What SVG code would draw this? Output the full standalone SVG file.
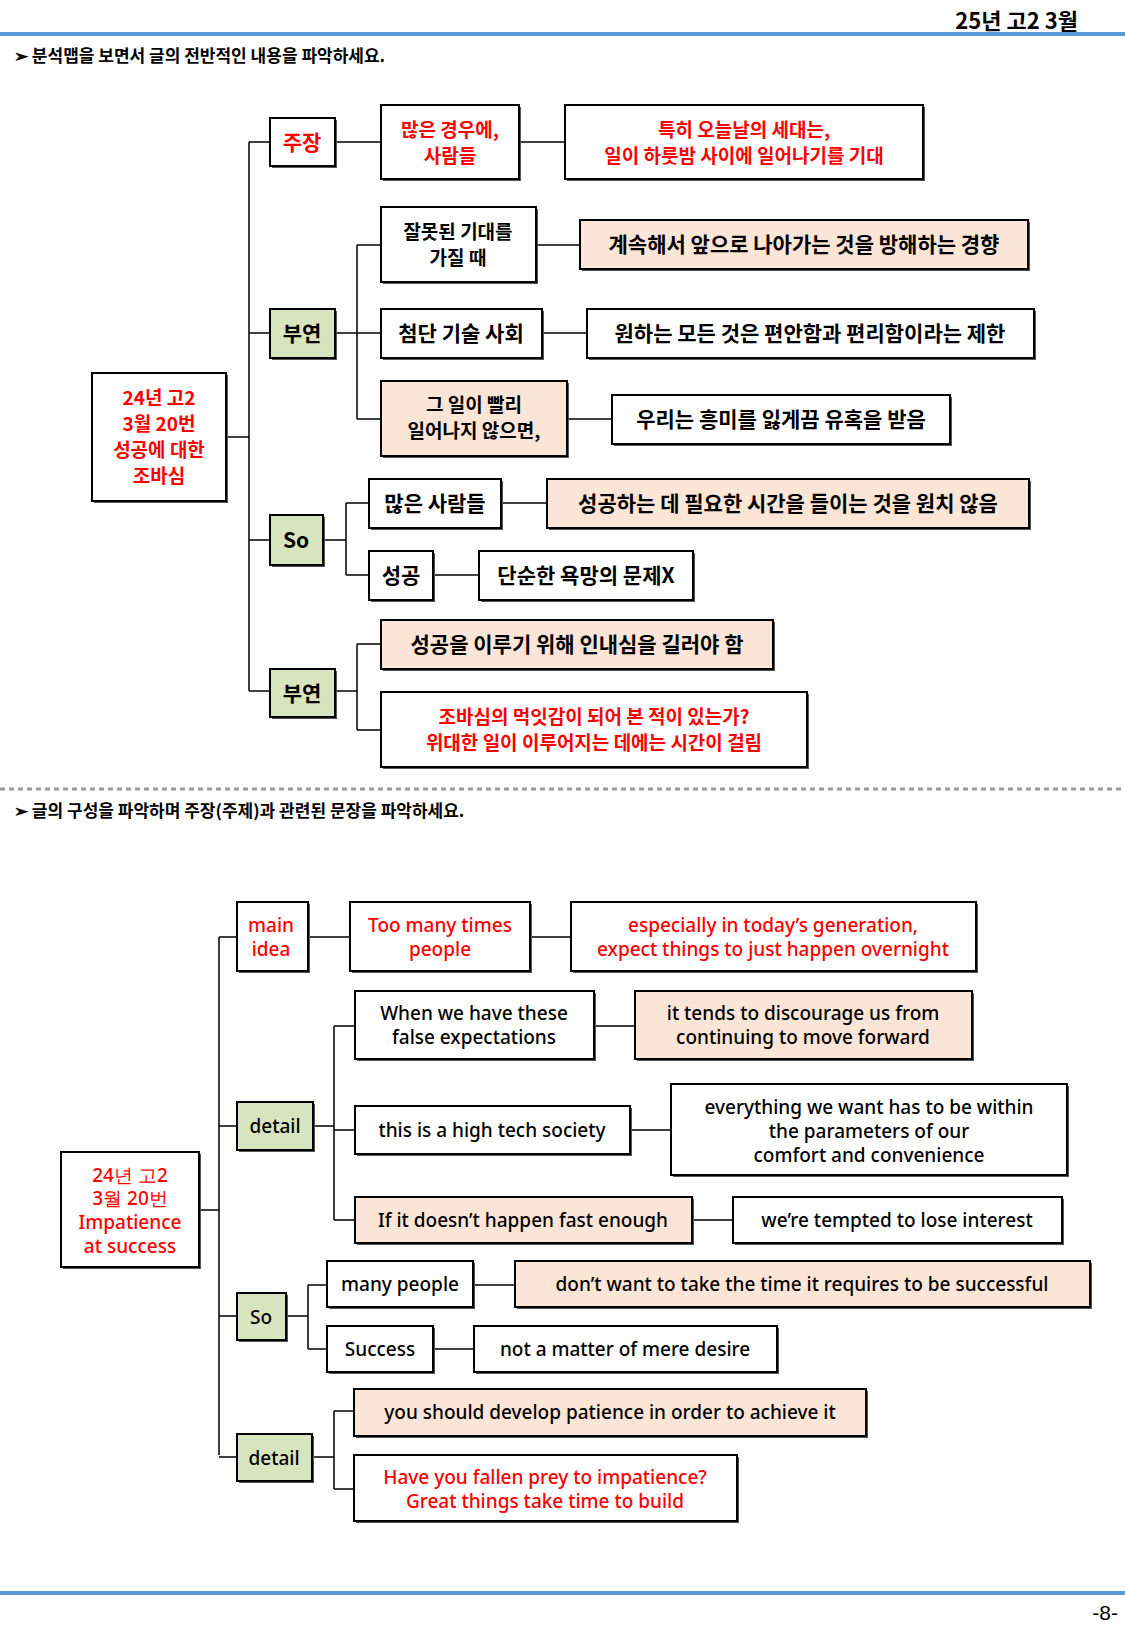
<svg xmlns="http://www.w3.org/2000/svg" width="1125" height="1625" viewBox="0 0 1125 1625">
<style>
.b{fill:#fff;stroke:#000;stroke-width:2}
.g{fill:#d7e4bd;stroke:#000;stroke-width:2}
.p{fill:#fbe5d6;stroke:#000;stroke-width:2}
.sh{fill:#555}
.k{font-family:"Noto Sans CJK KR","Noto Sans",sans-serif;font-weight:700;font-size:21px;text-anchor:middle}
.k2{font-family:"Noto Sans CJK KR","Noto Sans",sans-serif;font-weight:700;font-size:19px;text-anchor:middle}
.e{font-family:"Noto Sans","Liberation Sans",sans-serif;font-weight:500;font-size:19px;text-anchor:middle}
.r{fill:#ff0000}.d{fill:#000}
.c{fill:none;stroke:#000;stroke-width:1.5}
</style>
<rect width="1125" height="1625" fill="#fff"/>
<text x="1078" y="29" font-family="Noto Sans CJK KR,sans-serif" font-weight="700" font-size="22" text-anchor="end">25년 고2 3월</text>
<rect x="0" y="32" width="1125" height="4" fill="#5b9bd5"/>
<text x="14" y="62" font-family="Noto Sans CJK KR,sans-serif" font-weight="700" font-size="17">➢ 분석맵을 보면서 글의 전반적인 내용을 파악하세요.</text>
<line x1="0" y1="789" x2="1125" y2="789" stroke="#999" stroke-width="3" stroke-dasharray="5,4"/>
<text x="14" y="817" font-family="Noto Sans CJK KR,sans-serif" font-weight="700" font-size="17">➢ 글의 구성을 파악하며 주장(주제)과 관련된 문장을 파악하세요.</text>
<rect x="0" y="1591" width="1125" height="4" fill="#5b9bd5"/>
<text x="1118" y="1620" font-family="Liberation Sans,sans-serif" font-size="21" text-anchor="end">-8-</text>

<g id="connectors">
<path class="c" d="M226 437H249M249 142V691M249 142H270M335 142H381M519 142H565M249 333H270M335 333H357M357 245V419M357 245H381M536 245H580M357 333H381M542 333H587M357 419H381M567 419H612M249 540H270M323 540H346M346 503V575M346 503H369M501 503H547M346 575H369M433 575H479M249 691H270M335 691H357M357 644V730M357 644H381M357 730H381"/>
<path class="c" d="M199 1210H219M219 937V1455M219 937H237M308 937H350M530 937H571M219 1126H237M313 1126H334M334 1026V1220M334 1026H355M594 1026H635M334 1130H355M630 1130H671M334 1220H355M692 1220H733M219 1316H237M286 1316H308M308 1285V1349M308 1285H327M473 1285H515M308 1349H327M433 1349H474M219 1457H237M312 1457H334M334 1411V1489M334 1411H354M334 1489H354"/>
</g>

<g id="n_root1"><rect class="sh" x="94" y="375" width="134" height="128"/><rect class="b" x="92" y="373" width="134" height="128"/><text class="k2 r" x="159" y="405">24년 고2</text><text class="k2 r" x="159" y="431">3월 20번</text><text class="k2 r" x="159" y="457">성공에 대한</text><text class="k2 r" x="159" y="483">조바심</text></g>
<g id="n_jujang"><rect class="sh" x="272" y="120" width="65" height="48"/><rect class="b" x="270" y="118" width="65" height="48"/><text class="k r" x="302" y="150">주장</text></g>
<g id="n_many"><rect class="sh" x="383" y="107" width="138" height="74"/><rect class="b" x="381" y="105" width="138" height="74"/><text class="k2 r" x="450" y="137">많은 경우에,</text><text class="k2 r" x="450" y="163">사람들</text></g>
<g id="n_esp"><rect class="sh" x="567" y="107" width="358" height="74"/><rect class="b" x="565" y="105" width="358" height="74"/><text class="k2 r" x="744" y="137">특히 오늘날의 세대는,</text><text class="k2 r" x="744" y="163">일이 하룻밤 사이에 일어나기를 기대</text></g>
<g id="n_buyeon1"><rect class="sh" x="272" y="311" width="65" height="49"/><rect class="g" x="270" y="309" width="65" height="49"/><text class="k d" x="302" y="341">부연</text></g>
<g id="n_wrong"><rect class="sh" x="383" y="209" width="155" height="75"/><rect class="b" x="381" y="207" width="155" height="75"/><text class="k2 d" x="458" y="239">잘못된 기대를</text><text class="k2 d" x="458" y="265">가질 때</text></g>
<g id="n_cont"><rect class="sh" x="582" y="222" width="448" height="49"/><rect class="p" x="580" y="220" width="448" height="49"/><text class="k d" x="804" y="252">계속해서 앞으로 나아가는 것을 방해하는 경향</text></g>
<g id="n_tech"><rect class="sh" x="383" y="311" width="161" height="49"/><rect class="b" x="381" y="309" width="161" height="49"/><text class="k d" x="461" y="341">첨단 기술 사회</text></g>
<g id="n_want"><rect class="sh" x="589" y="311" width="447" height="49"/><rect class="b" x="587" y="309" width="447" height="49"/><text class="k d" x="810" y="341">원하는 모든 것은 편안함과 편리함이라는 제한</text></g>
<g id="n_fast"><rect class="sh" x="383" y="383" width="186" height="75"/><rect class="p" x="381" y="381" width="186" height="75"/><text class="k2 d" x="474" y="412">그 일이 빨리</text><text class="k2 d" x="474" y="438">일어나지 않으면,</text></g>
<g id="n_tempt"><rect class="sh" x="614" y="397" width="338" height="49"/><rect class="b" x="612" y="395" width="338" height="49"/><text class="k d" x="781" y="427">우리는 흥미를 잃게끔 유혹을 받음</text></g>
<g id="n_so1"><rect class="sh" x="272" y="517" width="53" height="50"/><rect class="g" x="270" y="515" width="53" height="50"/><text class="k d" x="296" y="548">So</text></g>
<g id="n_people"><rect class="sh" x="371" y="481" width="132" height="49"/><rect class="b" x="369" y="479" width="132" height="49"/><text class="k d" x="435" y="511">많은 사람들</text></g>
<g id="n_time"><rect class="sh" x="549" y="481" width="482" height="49"/><rect class="p" x="547" y="479" width="482" height="49"/><text class="k d" x="788" y="511">성공하는 데 필요한 시간을 들이는 것을 원치 않음</text></g>
<g id="n_success"><rect class="sh" x="371" y="553" width="64" height="49"/><rect class="b" x="369" y="551" width="64" height="49"/><text class="k d" x="401" y="583">성공</text></g>
<g id="n_desire"><rect class="sh" x="481" y="553" width="214" height="49"/><rect class="b" x="479" y="551" width="214" height="49"/><text class="k d" x="586" y="583">단순한 욕망의 문제X</text></g>
<g id="n_buyeon2"><rect class="sh" x="272" y="671" width="65" height="48"/><rect class="g" x="270" y="669" width="65" height="48"/><text class="k d" x="302" y="701">부연</text></g>
<g id="n_patience"><rect class="sh" x="383" y="622" width="392" height="49"/><rect class="p" x="381" y="620" width="392" height="49"/><text class="k d" x="577" y="652">성공을 이루기 위해 인내심을 길러야 함</text></g>
<g id="n_prey"><rect class="sh" x="383" y="694" width="426" height="75"/><rect class="b" x="381" y="692" width="426" height="75"/><text class="k2 r" x="594" y="724">조바심의 먹잇감이 되어 본 적이 있는가?</text><text class="k2 r" x="594" y="750">위대한 일이 이루어지는 데에는 시간이 걸림</text></g>

<g id="n_root2"><rect class="sh" x="63" y="1154" width="138" height="115"/><rect class="b" x="61" y="1152" width="138" height="115"/><text class="e r" x="130" y="1182">24년 고2</text><text class="e r" x="130" y="1205">3월 20번</text><text class="e r" x="130" y="1229">Impatience</text><text class="e r" x="130" y="1253">at success</text></g>
<g id="n_main"><rect class="sh" x="239" y="904" width="71" height="69"/><rect class="b" x="237" y="902" width="71" height="69"/><text class="e r" x="271" y="932">main</text><text class="e r" x="271" y="956">idea</text></g>
<g id="n_toomany"><rect class="sh" x="352" y="904" width="180" height="69"/><rect class="b" x="350" y="902" width="180" height="69"/><text class="e r" x="440" y="932">Too many times</text><text class="e r" x="440" y="956">people</text></g>
<g id="n_espe"><rect class="sh" x="573" y="904" width="405" height="69"/><rect class="b" x="571" y="902" width="405" height="69"/><text class="e r" x="773" y="932">especially in today’s generation,</text><text class="e r" x="773" y="956">expect things to just happen overnight</text></g>
<g id="n_detail1"><rect class="sh" x="239" y="1104" width="76" height="48"/><rect class="g" x="237" y="1102" width="76" height="48"/><text class="e d" x="275" y="1133">detail</text></g>
<g id="n_when"><rect class="sh" x="357" y="993" width="239" height="68"/><rect class="b" x="355" y="991" width="239" height="68"/><text class="e d" x="474" y="1020">When we have these</text><text class="e d" x="474" y="1044">false expectations</text></g>
<g id="n_tends"><rect class="sh" x="637" y="993" width="337" height="68"/><rect class="p" x="635" y="991" width="337" height="68"/><text class="e d" x="803" y="1020">it tends to discourage us from</text><text class="e d" x="803" y="1044">continuing to move forward</text></g>
<g id="n_high"><rect class="sh" x="357" y="1108" width="275" height="48"/><rect class="b" x="355" y="1106" width="275" height="48"/><text class="e d" x="492" y="1137">this is a high tech society</text></g>
<g id="n_every"><rect class="sh" x="673" y="1086" width="396" height="91"/><rect class="b" x="671" y="1084" width="396" height="91"/><text class="e d" x="869" y="1114">everything we want has to be within</text><text class="e d" x="869" y="1138">the parameters of our</text><text class="e d" x="869" y="1162">comfort and convenience</text></g>
<g id="n_ifit"><rect class="sh" x="357" y="1199" width="337" height="46"/><rect class="p" x="355" y="1197" width="337" height="46"/><text class="e d" x="523" y="1227">If it doesn’t happen fast enough</text></g>
<g id="n_lose"><rect class="sh" x="735" y="1199" width="329" height="46"/><rect class="b" x="733" y="1197" width="329" height="46"/><text class="e d" x="897" y="1227">we’re tempted to lose interest</text></g>
<g id="n_so2"><rect class="sh" x="239" y="1295" width="49" height="47"/><rect class="g" x="237" y="1293" width="49" height="47"/><text class="e d" x="261" y="1324">So</text></g>
<g id="n_mp"><rect class="sh" x="329" y="1263" width="146" height="46"/><rect class="b" x="327" y="1261" width="146" height="46"/><text class="e d" x="400" y="1291">many people</text></g>
<g id="n_dont"><rect class="sh" x="517" y="1263" width="575" height="46"/><rect class="p" x="515" y="1261" width="575" height="46"/><text class="e d" x="802" y="1291">don’t want to take the time it requires to be successful</text></g>
<g id="n_succ"><rect class="sh" x="329" y="1328" width="106" height="46"/><rect class="b" x="327" y="1326" width="106" height="46"/><text class="e d" x="380" y="1356">Success</text></g>
<g id="n_notm"><rect class="sh" x="476" y="1328" width="303" height="46"/><rect class="b" x="474" y="1326" width="303" height="46"/><text class="e d" x="625" y="1356">not a matter of mere desire</text></g>
<g id="n_detail2"><rect class="sh" x="239" y="1436" width="75" height="47"/><rect class="g" x="237" y="1434" width="75" height="47"/><text class="e d" x="274" y="1465">detail</text></g>
<g id="n_should"><rect class="sh" x="356" y="1391" width="512" height="47"/><rect class="p" x="354" y="1389" width="512" height="47"/><text class="e d" x="610" y="1419">you should develop patience in order to achieve it</text></g>
<g id="n_have"><rect class="sh" x="356" y="1457" width="383" height="66"/><rect class="b" x="354" y="1455" width="383" height="66"/><text class="e r" x="545" y="1484">Have you fallen prey to impatience?</text><text class="e r" x="545" y="1508">Great things take time to build</text></g>
</svg>
